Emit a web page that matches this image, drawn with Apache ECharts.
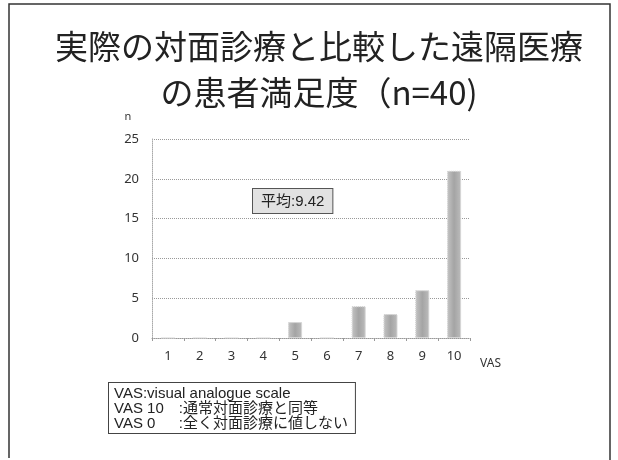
<!DOCTYPE html>
<html>
<head>
<meta charset="utf-8">
<script src="https://cdn.jsdelivr.net/npm/echarts@6/dist/echarts.min.js"></script>
<style>
  html, body { margin: 0; padding: 0; background: #fff; }
  #chart { width: 618px; height: 460px; }
</style>
</head>
<body>
<div id="chart"></div>
<script>
var vasScores = ['1', '2', '3', '4', '5', '6', '7', '8', '9', '10'];
var patientCounts = [0, 0, 0, 0, 2, 0, 4, 3, 6, 21];
var yTicks = [0, 5, 10, 15, 20, 25];
var meanLabel = '平均:9.42';
var noteLines = [
    'VAS:visual analogue scale',
    'VAS 10\u3000:通常対面診療と同等',
    'VAS 0\u3000  :全く対面診療に値しない'
];

var myChart = echarts.init(document.getElementById('chart'));

var option = {
    backgroundColor: '#fff',
    title: {
        text: '実際の対面診療と比較した遠隔医療\nの患者満足度（n=40)',
        left: 314,
        textAlign: 'center',
        top: 18,
        textStyle: {
            fontFamily: 'Noto Sans CJK JP',
            fontSize: 33,
            fontWeight: 'normal',
            color: '#222',
            lineHeight: 46
        }
    },
    grid: {
        left: 152,
        right: 148,
        top: 139,
        bottom: 122
    },
    xAxis: {
        type: 'category',
        data: vasScores,
        name: 'VAS',
        nameLocation: 'end',
        nameGap: 10,
        nameTextStyle: {
            fontFamily: 'Noto Sans',
            fontSize: 12,
            color: '#333',
            verticalAlign: 'top',
            padding: [20, 0, 0, 0]
        },
        axisLine: {
            lineStyle: { color: '#999', type: 'dotted' }
        },
        axisTick: {
            show: true,
            length: 3,
            lineStyle: { color: '#999' }
        },
        axisLabel: {
            fontFamily: 'Noto Sans',
            fontSize: 13,
            color: '#333',
            margin: 12
        }
    },
    yAxis: {
        type: 'value',
        min: yTicks[0],
        max: yTicks[yTicks.length - 1],
        interval: yTicks[1] - yTicks[0],
        name: 'n',
        nameLocation: 'end',
        nameGap: 17,
        nameTextStyle: {
            fontFamily: 'Noto Sans',
            fontSize: 11,
            color: '#333',
            align: 'center',
            padding: [0, 48, 0, 0]
        },
        axisLine: {
            show: true,
            lineStyle: { color: '#aaa', type: 'dotted' }
        },
        axisTick: { show: false },
        splitLine: {
            lineStyle: { color: '#999', type: 'dotted' }
        },
        axisLabel: {
            fontFamily: 'Noto Sans',
            fontSize: 13,
            color: '#333',
            margin: 13
        }
    },
    series: [
        {
            type: 'bar',
            data: patientCounts,
            barWidth: 14,
            itemStyle: {
                color: new echarts.graphic.LinearGradient(0, 0, 1, 0, [
                    {offset: 0, color: '#c4c4c4'},
                    {offset: 0.5, color: '#a4a4a4'},
                    {offset: 1, color: '#bcbcbc'}
                ]),
                borderColor: '#d4d4d4',
                borderWidth: 1,
                borderType: 'dotted'
            }
        }
    ],
    graphic: [
        {
            type: 'polyline',
            shape: { points: [[9, 458], [9, 4], [610, 4], [610, 460]] },
            style: { stroke: '#333', lineWidth: 1.5, fill: null }
        },
        {
            type: 'text',
            left: 252,
            top: 188,
            style: {
                text: meanLabel,
                font: '15px "Liberation Sans", "Noto Sans CJK JP"',
                fill: '#222',
                backgroundColor: '#e2e2e2',
                borderColor: '#555',
                borderWidth: 1,
                padding: [5, 8, 4, 8]
            }
        },
        {
            type: 'text',
            left: 108,
            top: 382,
            style: {
                text: noteLines.join('\n'),
                font: '15px "Liberation Sans", "Noto Sans CJK JP"',
                lineHeight: 15,
                fill: '#222',
                backgroundColor: '#fff',
                borderColor: '#444',
                borderWidth: 1,
                padding: [3, 7, 2, 5]
            }
        }
    ]
};

myChart.setOption(option);
</script>
</body>
</html>
